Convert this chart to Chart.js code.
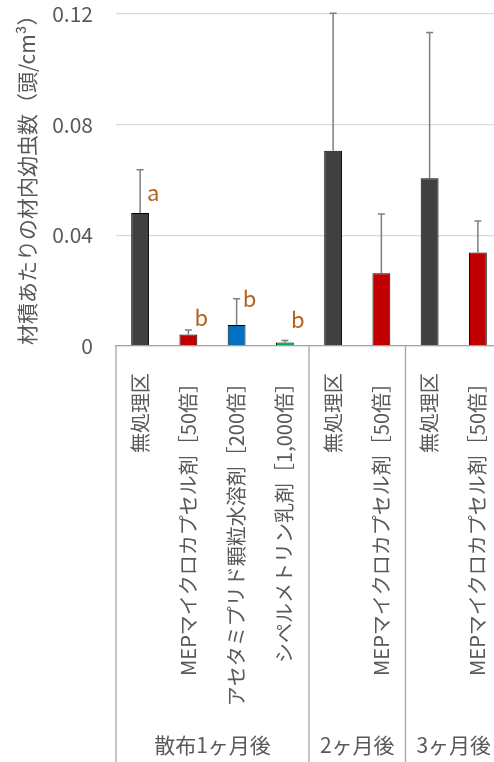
<!DOCTYPE html>
<html>
<head>
<meta charset="utf-8">
<script src="https://cdn.jsdelivr.net/npm/chart.js@4"></script>
<style>
  html, body { margin: 0; padding: 0; background: #fff; overflow: hidden; }
  #wrap { width: 502px; height: 762px; }
</style>
</head>
<body>
<div id="wrap"><canvas id="c" width="502" height="762"></canvas></div>
<script>
const categories = [
  '無処理区',
  'MEPマイクロカプセル剤［50倍］',
  'アセタミプリド顆粒水溶剤［200倍］',
  'シペルメトリン乳剤［1,000倍］',
  '無処理区',
  'MEPマイクロカプセル剤［50倍］',
  '無処理区',
  'MEPマイクロカプセル剤［50倍］'
];
const values = [0.0481, 0.0042, 0.0076, 0.0013, 0.0706, 0.0263, 0.0606, 0.0338];
const errors = [0.0156, 0.0016, 0.0095, 0.0007, 0.0497, 0.0214, 0.0527, 0.0114];
const barColors = ['#404040', '#C00000', '#0070C0', '#00B050', '#404040', '#C00000', '#404040', '#C00000'];
const letters = ['a', 'b', 'b', 'b'];
const letterValues = [0.0554, 0.0101, 0.0170, 0.0094];
const groupLabels = ['散布1ヶ月後', '2ヶ月後', '3ヶ月後'];
const groupSizes = [4, 2, 2];
const yTickLabels = ['0', '0.04', '0.08', '0.12'];
const yTitle = '\u2002材積あたりの材内幼虫数（頭/cm³）';

const FONT = "'Noto Sans CJK JP', 'Noto Sans', sans-serif";
const TEXT = '#595959';

const overlay = {
  id: 'overlay',
  afterDatasetsDraw(chart) {
    const ctx = chart.ctx;
    const x = chart.scales.x, y = chart.scales.y;
    const meta = chart.getDatasetMeta(0);
    ctx.save();
    // error bars
    ctx.strokeStyle = '#7F7F7F';
    ctx.lineWidth = 1.5;
    meta.data.forEach((el, i) => {
      const top = y.getPixelForValue(values[i] + errors[i]);
      ctx.beginPath();
      ctx.moveTo(el.x, el.y);
      ctx.lineTo(el.x, top);
      ctx.moveTo(el.x - 3.5, top);
      ctx.lineTo(el.x + 3.5, top);
      ctx.stroke();
    });
    // significance letters
    ctx.fillStyle = '#B5621A';
    ctx.font = '22px ' + FONT;
    ctx.textAlign = 'center';
    ctx.textBaseline = 'middle';
    letters.forEach((l, i) => {
      const el = meta.data[i];
      ctx.fillText(l, el.x + 13, y.getPixelForValue(letterValues[i]));
    });
    // category separators and group labels
    const step = x.getPixelForValue(1) - x.getPixelForValue(0);
    const yTop = chart.chartArea.bottom;
    const yBot = chart.height;
    ctx.strokeStyle = '#A6A6A6';
    ctx.lineWidth = 1.3;
    let start = 0;
    const bounds = [x.getPixelForValue(0) - step / 2];
    groupSizes.forEach(n => { start += n; bounds.push(x.getPixelForValue(start - 1) + step / 2); });
    bounds.forEach(bx => {
      ctx.beginPath();
      ctx.moveTo(bx, yTop);
      ctx.lineTo(bx, yBot);
      ctx.stroke();
    });
    ctx.fillStyle = TEXT;
    ctx.font = '21px ' + FONT;
    groupLabels.forEach((g, i) => {
      ctx.fillText(g, (bounds[i] + bounds[i + 1]) / 2, 745);
    });
    ctx.restore();
  }
};

new Chart(document.getElementById('c'), {
  type: 'bar',
  data: {
    labels: categories,
    datasets: [{
      data: values,
      backgroundColor: barColors,
      borderColor: '#000000',
      borderWidth: 1,
      barPercentage: 0.37,
      categoryPercentage: 1.0
    }]
  },
  options: {
    responsive: false,
    animation: false,
    devicePixelRatio: 1,
    layout: { padding: { top: 14, right: 0, bottom: 0, left: 0 } },
    plugins: { legend: { display: false }, tooltip: { enabled: false } },
    scales: {
      x: {
        grid: { display: false, drawTicks: false },
        border: { display: true, color: '#A6A6A6', width: 1.3 },
        ticks: {
          autoSkip: false,
          minRotation: 90,
          maxRotation: 90,
          padding: 27,
          color: TEXT,
          font: { family: FONT, size: 20 }
        },
        afterFit(scale) {
          scale.height = 416;
          scale.paddingLeft = 0;
          scale.paddingRight = 0;
        }
      },
      y: {
        min: 0,
        max: 0.12,
        grid: { color: '#D9D9D9', lineWidth: 1.3, drawTicks: false },
        border: { display: false },
        ticks: {
          stepSize: 0.04,
          padding: 23,
          color: TEXT,
          font: { family: FONT, size: 21 },
          callback: (v, i) => yTickLabels[i]
        },
        title: {
          display: true,
          text: yTitle,
          color: TEXT,
          font: { family: FONT, size: 21 },
          padding: { top: 14, bottom: 0 }
        },
        afterFit(scale) {
          scale.width = 116;
          scale.paddingTop = 0;
          scale.paddingBottom = 0;
        }
      }
    }
  },
  plugins: [overlay]
});
</script>
</body>
</html>
